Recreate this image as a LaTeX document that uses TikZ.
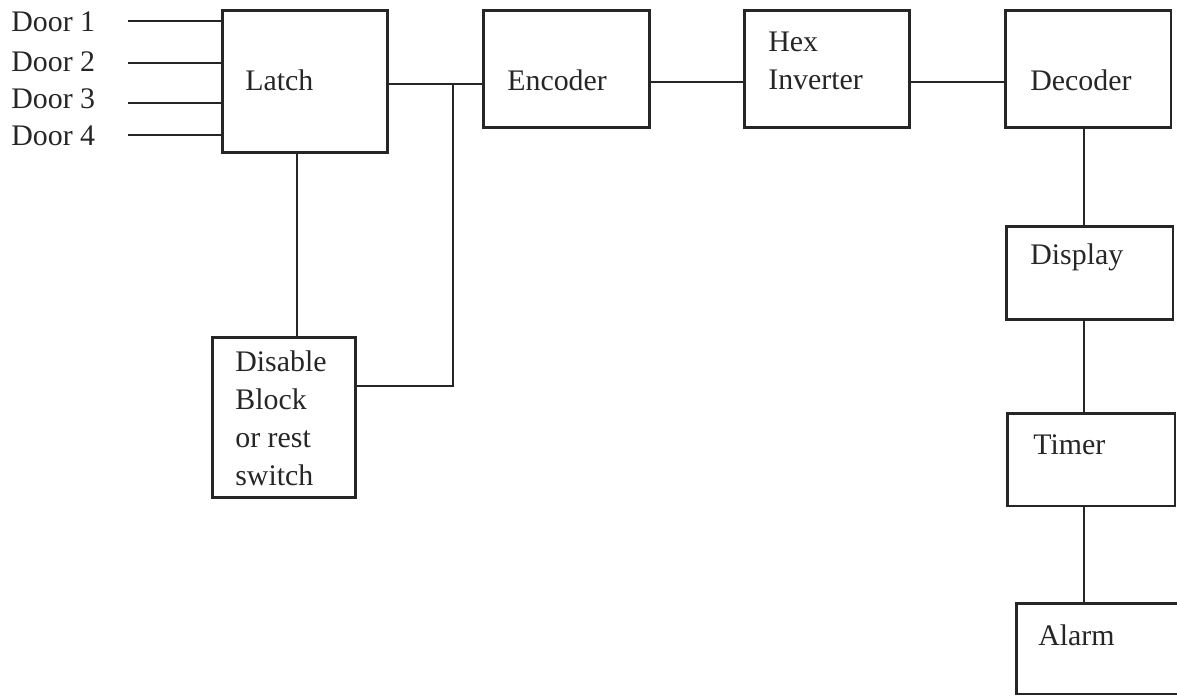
\documentclass[tikz,border=0pt]{standalone}
\usepackage{fontspec}
\setmainfont{Liberation Serif}
\usetikzlibrary{positioning}

\begin{document}
\begin{tikzpicture}[
  x=0.02cm, y=-0.02cm,
  blk/.style={rectangle,draw=black!85,line width=1.7pt,inner sep=0pt},
  lbl/.style={anchor=west,inner sep=0pt,align=left,text=black!85,
              font=\fontsize{17}{21.6}\selectfont},
  wire/.style={draw=black!85,line width=1.4pt},
]
  \useasboundingbox (0,0) rectangle (1177,696);

  % Blocks (top row)
  \node[blk,minimum width=3.32cm,minimum height=2.86cm] (latch) at (305,81.5) {};
  \node[blk,minimum width=3.34cm,minimum height=2.36cm] (enc)   at (566.5,69) {};
  \node[blk,minimum width=3.32cm,minimum height=2.36cm] (hex)   at (827,69) {};
  \node[blk,minimum width=3.32cm,minimum height=2.36cm] (dec)   at (1088,69) {};

  % Right column
  \node[blk,minimum width=3.34cm,minimum height=1.88cm] (disp)  at (1089.5,273) {};
  \node[blk,minimum width=3.36cm,minimum height=1.86cm] (timer) at (1091,459.5) {};
  \node[blk,minimum width=3.32cm,minimum height=1.82cm] (alarm) at (1099,648.5) {};

  % Disable block
  \node[blk,minimum width=2.88cm,minimum height=3.22cm] (dis) at (284,417.5) {};

  % Block texts
  \node[lbl] (tlatch) at (245,80)  {Latch};
  \node[lbl] (tenc)   at (507,80)  {Encoder};
  \node[lbl] (thex)   at (768,61)  {Hex\\Inverter};
  \node[lbl] (tdec)   at (1030,80) {Decoder};
  \node[lbl] (tdisp)  at (1030,257) {Display};
  \node[lbl] (ttimer) at (1033,445) {Timer};
  \node[lbl] (talarm) at (1038,635) {Alarm};
  \node[lbl] (tdis)   at (235,418) {Disable\\Block\\or rest\\switch};

  % Door inputs
  \foreach \i/\yy/\ty in {1/21/22,2/63/62,3/103/99,4/135/136}{
    \node[lbl] (door\i) at (11,\ty) {Door \i};
    \coordinate (in\i) at (128,\yy);
    \draw[wire] (in\i) -- (in\i -| latch.west);
  }

  % Junction and bus rows
  \coordinate (jn)  at (453,84);
  \coordinate (jd)  at (453,386);
  \coordinate (row) at (0,82);
  \coordinate (ls)  at (297,0);
  \coordinate (col) at (1084,0);

  \draw[wire] (latch.east |- jn) -- (jn) -- (enc.west |- jn);
  \draw[wire] (jn) -- (jd) -- (dis.east |- jd);
  \draw[wire] (latch.south -| ls) -- (dis.north -| ls);
  \draw[wire] (enc.east |- row) -- (hex.west |- row);
  \draw[wire] (hex.east |- row) -- (dec.west |- row);

  % Output chain
  \draw[wire] (dec.south -| col) -- (disp.north -| col);
  \draw[wire] (disp.south -| col) -- (timer.north -| col);
  \draw[wire] (timer.south -| col) -- (alarm.north -| col);
\end{tikzpicture}
\end{document}
